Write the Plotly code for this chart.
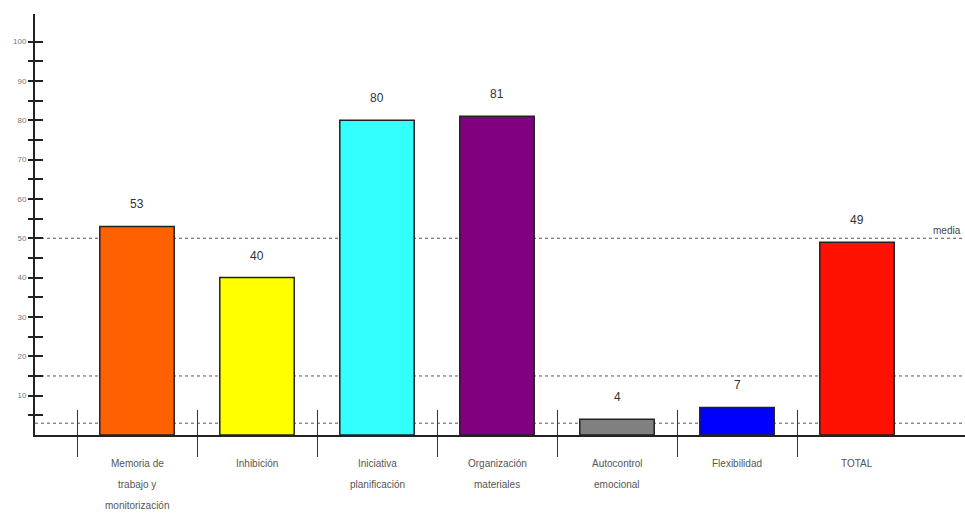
import plotly.graph_objects as go

categories = ["Memoria de trabajo y monitorización", "Inhibición", "Iniciativa planificación",
              "Organización materiales", "Autocontrol emocional", "Flexibilidad", "TOTAL"]
label_lines = [["Memoria de", "trabajo y", "monitorización"], ["Inhibición"],
               ["Iniciativa", "planificación"], ["Organización", "materiales"],
               ["Autocontrol", "emocional"], ["Flexibilidad"], ["TOTAL"]]
values = [53, 40, 80, 81, 4, 7, 49]
value_labels = ["53", "40", "80", "81", "4", "7", "49"]
colors = ["#FF6000", "#FFFF00", "#33FFFF", "#800080", "#808080", "#0000FF", "#FF1100"]
ref_lines = [50, 15, 3]
ref_label = "media"
ytick_vals = list(range(5, 105, 5))
ytick_text = [str(v) if v % 10 == 0 else "" for v in ytick_vals]

idx = list(range(len(categories)))
FONT = "Liberation Sans Narrow, Liberation Sans, Arial"

fig = go.Figure()
fig.add_trace(go.Bar(x=idx, y=values, marker=dict(color=colors, line=dict(color="#222", width=1.5)),
                     width=0.62, hoverinfo="skip"))
# invisible trace to activate second axes
fig.add_trace(go.Scatter(x=[0], y=[0], xaxis="x2", yaxis="y2", mode="markers",
                         marker=dict(opacity=0), showlegend=False, hoverinfo="skip"))

for v in ref_lines:
    fig.add_shape(type="line", xref="paper", yref="y", x0=0, x1=1, y0=v, y1=v,
                  line=dict(color="#555", width=1, dash="dot"), layer="below")

fig.add_annotation(x=1, xref="paper", y=ref_lines[0], yref="y", text=ref_label,
                   showarrow=False, xanchor="right", yanchor="bottom", xshift=-2, yshift=0,
                   font=dict(family=FONT, size=10, color="#444"))

for i, (v, t) in enumerate(zip(values, value_labels)):
    fig.add_annotation(x=i, y=v, text=t, showarrow=False, yanchor="bottom", yshift=13,
                       font=dict(family=FONT, size=12, color="#333"))

for i, lines in enumerate(label_lines):
    for k, ln in enumerate(lines):
        fig.add_annotation(x=i, xref="x", y=0, yref="paper", text=ln, showarrow=False,
                           yanchor="middle", yshift=-28 - 21 * k,
                           font=dict(family=FONT, size=10, color="#555"))

xr = [-0.85, 6.9]
yr = [0, 107]
sep_vals = [i - 0.5 for i in idx]

fig.update_layout(
    width=965, height=514,
    margin=dict(l=35, r=0, t=14, b=79),
    paper_bgcolor="white", plot_bgcolor="white",
    showlegend=False,
    xaxis=dict(range=xr, showgrid=False, zeroline=False, showline=True, linecolor="#222", linewidth=2,
               tickvals=sep_vals, ticktext=[""] * len(sep_vals), ticks="outside", ticklen=20,
               tickwidth=1.3, tickcolor="#333"),
    xaxis2=dict(range=xr, overlaying="x", showgrid=False, zeroline=False, showline=False,
                tickvals=sep_vals, ticktext=[""] * len(sep_vals), ticks="inside", ticklen=25,
                tickwidth=1.3, tickcolor="#333"),
    yaxis=dict(range=yr, showgrid=False, zeroline=False, showline=True, linecolor="#222", linewidth=2,
               tickvals=ytick_vals, ticktext=ytick_text, ticks="outside", ticklen=5, tickwidth=1.5,
               tickcolor="#222", tickfont=dict(family=FONT, size=8, color="#777")),
    yaxis2=dict(range=yr, overlaying="y", showgrid=False, zeroline=False, showline=False,
                tickvals=ytick_vals, ticktext=[""] * len(ytick_vals), ticks="inside", ticklen=8,
                tickwidth=1.5, tickcolor="#222"),
)

fig.write_html("out.html")
